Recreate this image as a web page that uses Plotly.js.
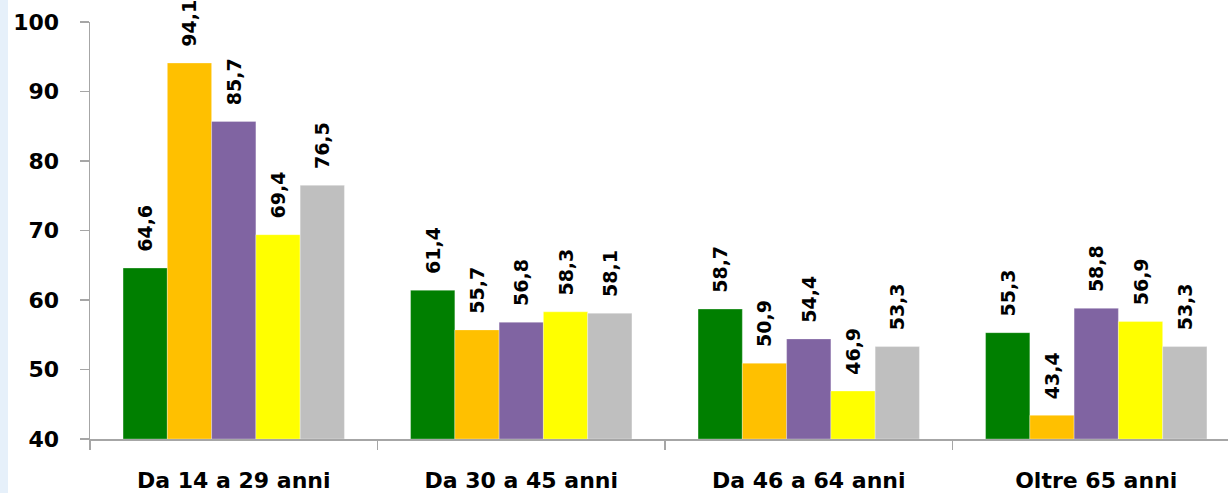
<!DOCTYPE html>
<html>
<head>
<meta charset="utf-8">
<script src="https://cdn.plot.ly/plotly-3.0.1.min.js"></script>
<style>
html,body{margin:0;padding:0;background:#fff;}
#chart{width:1228px;height:493px;}
</style>
</head>
<body>
<div id="chart"></div>
<script>
var categories = ["Da 14 a 29 anni", "Da 30 a 45 anni", "Da 46 a 64 anni", "Oltre 65 anni"];
var series1 = [64.6, 61.4, 58.7, 55.3];
var series2 = [94.1, 55.7, 50.9, 43.4];
var series3 = [85.7, 56.8, 54.4, 58.8];
var series4 = [69.4, 58.3, 46.9, 56.9];
var series5 = [76.5, 58.1, 53.3, 53.3];
var colors = ["#007F00", "#FFC000", "#8064A2", "#FFFF00", "#BFBFBF"];
var yTicks = [40, 50, 60, 70, 80, 90, 100];
var yBase = 40;

var allSeries = [series1, series2, series3, series4, series5];
var fontFam = "DejaVu Sans, Verdana, sans-serif";

var traces = allSeries.map(function(vals, i) {
  return {
    type: "bar",
    x: categories,
    y: vals.map(function(v){ return v - yBase; }),
    base: yBase,
    marker: {color: colors[i], line: {width: 0.5, color: "rgba(255,255,255,0.6)"}},
    text: vals.map(function(v){ return "\u00A0\u00A0" + v.toFixed(1).replace(".", ","); }),
    textposition: "outside",
    textangle: -90,
    constraintext: "none",
    textfont: {family: fontFam, size: 19, color: "#000", weight: "bold"},
    cliponaxis: false,
    hoverinfo: "none",
    showlegend: false
  };
});

var plotW = 1228 - 90;
var catW = 287.5;
var layout = {
  width: 1228,
  height: 493,
  margin: {l: 90, r: 0, t: 22, b: 54},
  paper_bgcolor: "#fff",
  plot_bgcolor: "#fff",
  barmode: "group",
  bargap: 0.23,
  bargroupgap: 0,
  font: {family: fontFam, color: "#000"},
  xaxis: {
    type: "category",
    range: [-0.5, -0.5 + plotW / catW],
    showline: true,
    linecolor: "#A6A6A6",
    linewidth: 1.5,
    ticks: "outside",
    tickson: "boundaries",
    ticklen: 9,
    tickcolor: "#A6A6A6",
    tickwidth: 1.5,
    ticklabelstandoff: 21,
    tickfont: {family: fontFam, size: 22, color: "#000", weight: "bold"},
    showgrid: false,
    zeroline: false,
    fixedrange: true
  },
  yaxis: {
    range: [40, 100],
    tickvals: yTicks,
    ticktext: yTicks.map(String),
    showline: true,
    linecolor: "#A6A6A6",
    linewidth: 1.5,
    ticks: "outside",
    ticklen: 9,
    tickcolor: "#A6A6A6",
    tickwidth: 1.5,
    ticklabelstandoff: 16,
    tickfont: {family: fontFam, size: 22, color: "#000", weight: "bold"},
    showgrid: false,
    zeroline: false,
    fixedrange: true
  },
  shapes: [{
    type: "rect", xref: "paper", yref: "paper",
    x0: -90 / plotW, x1: -82 / plotW, y0: -54 / 417, y1: (417 + 22) / 417,
    fillcolor: "#E6F0FA", line: {width: 0}, layer: "below"
  }]
};

Plotly.newPlot("chart", traces, layout, {displayModeBar: false, staticPlot: true});
</script>
</body>
</html>
